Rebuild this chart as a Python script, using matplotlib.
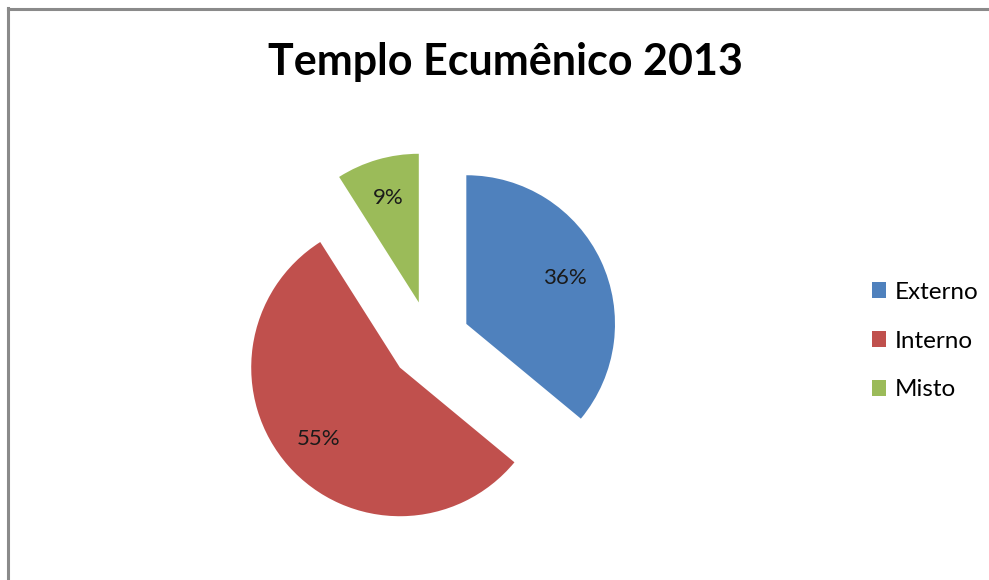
import matplotlib
matplotlib.use('Agg')
import matplotlib.pyplot as plt
from matplotlib.patches import Patch
from matplotlib.lines import Line2D

categories = ['Externo', 'Interno', 'Misto']
values = [36, 55, 9]
colors = ['#4F81BD', '#C0504D', '#9BBB59']

plt.rcParams['font.family'] = ['Lato', 'DejaVu Sans']

fig = plt.figure(figsize=(9.89, 5.8), dpi=100)

# frame of the chart area (only left and top visible)
fig.add_artist(Line2D([7.5/989, 7.5/989], [0, 1 - 8/580], color='#8a8a8a', lw=2.2))
fig.add_artist(Line2D([7.5/989, 1], [1 - 9/580, 1 - 9/580], color='#8a8a8a', lw=2.2))

ax = fig.add_axes([207/989, 16/580, 446/989, 446/580])
wedges, texts, autotexts = ax.pie(
    values, colors=colors, startangle=90, counterclock=False,
    explode=[0.27, 0.27, 0.27], autopct='%1.0f%%', pctdistance=0.73,
    wedgeprops=dict(linewidth=0), textprops=dict(fontsize=16, color='#1a1a1a'))
ax.set_xlim(-1.5, 1.5)
ax.set_ylim(-1.5, 1.5)
ax.set_aspect('equal')
ax.axis('off')

fig.text(505/989, 1 - 62/580, 'Templo Ecumênico 2013', ha='center', va='center',
         fontsize=31, fontweight='bold', color='black')

handles = [Patch(facecolor=c, edgecolor='none') for c in colors]
fig.legend(handles, categories, loc='center left', bbox_to_anchor=(850/989, 1 - 341/580),
           frameon=False, fontsize=17.5, handlelength=0.6, handleheight=0.6,
           handletextpad=0.35, labelspacing=1.15)

fig.savefig('out.png', dpi=100)
